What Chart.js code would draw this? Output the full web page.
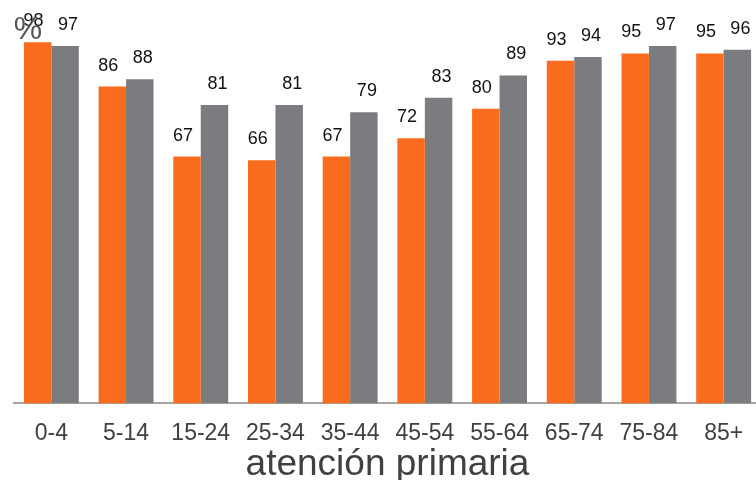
<!DOCTYPE html>
<html>
<head>
<meta charset="utf-8">
<script src="https://cdn.jsdelivr.net/npm/chart.js@4/dist/chart.umd.min.js"></script>
<style>
html,body{margin:0;padding:0;overflow:hidden;background:#fff;}
#wrap{position:absolute;left:0;top:0;width:762px;height:483px;}
</style>
</head>
<body>
<div id="wrap"><canvas id="c"></canvas></div>
<script>
const categories = ["0-4","5-14","15-24","25-34","35-44","45-54","55-64","65-74","75-84","85+"];
const seriesOrange = [98,86,67,66,67,72,80,93,95,95];
const seriesGray = [97,88,81,81,79,83,89,94,97,96];
const axisTitle = "atención primaria";
const unitLabel = "%";

const FONT = "'Liberation Sans', Arial, sans-serif";

const valueLabels = {
  id: 'valueLabels',
  afterDatasetsDraw(chart) {
    const ctx = chart.ctx;
    ctx.save();
    ctx.font = "18px " + FONT;
    ctx.fillStyle = "#111111";
    ctx.textAlign = "center";
    ctx.textBaseline = "middle";
    chart.data.datasets.forEach((ds, di) => {
      const meta = chart.getDatasetMeta(di);
      meta.data.forEach((bar, i) => {
        const dx = di === 0 ? -4 : 3;
        ctx.fillText(String(ds.data[i]), bar.x + dx, bar.y - 21);
      });
    });
    ctx.font = "32px " + FONT;
    ctx.fillStyle = "#555555";
    ctx.fillText(unitLabel, 28, 30);
    ctx.restore();
  }
};

new Chart(document.getElementById('c'), {
  type: 'bar',
  data: {
    labels: categories,
    datasets: [
      { data: seriesOrange, backgroundColor: '#F96C1E', borderWidth: 0 },
      { data: seriesGray, backgroundColor: '#7B7C80', borderWidth: 0 }
    ]
  },
  options: {
    responsive: true,
    maintainAspectRatio: false,
    animation: false,
    events: [],
    layout: { padding: { left: 14, right: 1, top: 35, bottom: 0 } },
    plugins: { legend: { display: false }, tooltip: { enabled: false } },
    datasets: { bar: { categoryPercentage: 0.735, barPercentage: 1.0 } },
    scales: {
      x: {
        grid: { display: false, drawTicks: false },
        border: { display: true, color: '#a6a6a6', width: 2 },
        ticks: { color: '#404040', font: { family: FONT, size: 23, lineHeight: 1.2 }, padding: 16.5, maxRotation: 0, autoSkip: false },
        title: { display: true, text: axisTitle, color: '#404040', font: { family: FONT, size: 37, lineHeight: '2px' }, padding: { top: 0, bottom: 17 } }
      },
      y: { display: false, min: 0, max: 100 }
    }
  },
  plugins: [valueLabels]
});
</script>
</body>
</html>
